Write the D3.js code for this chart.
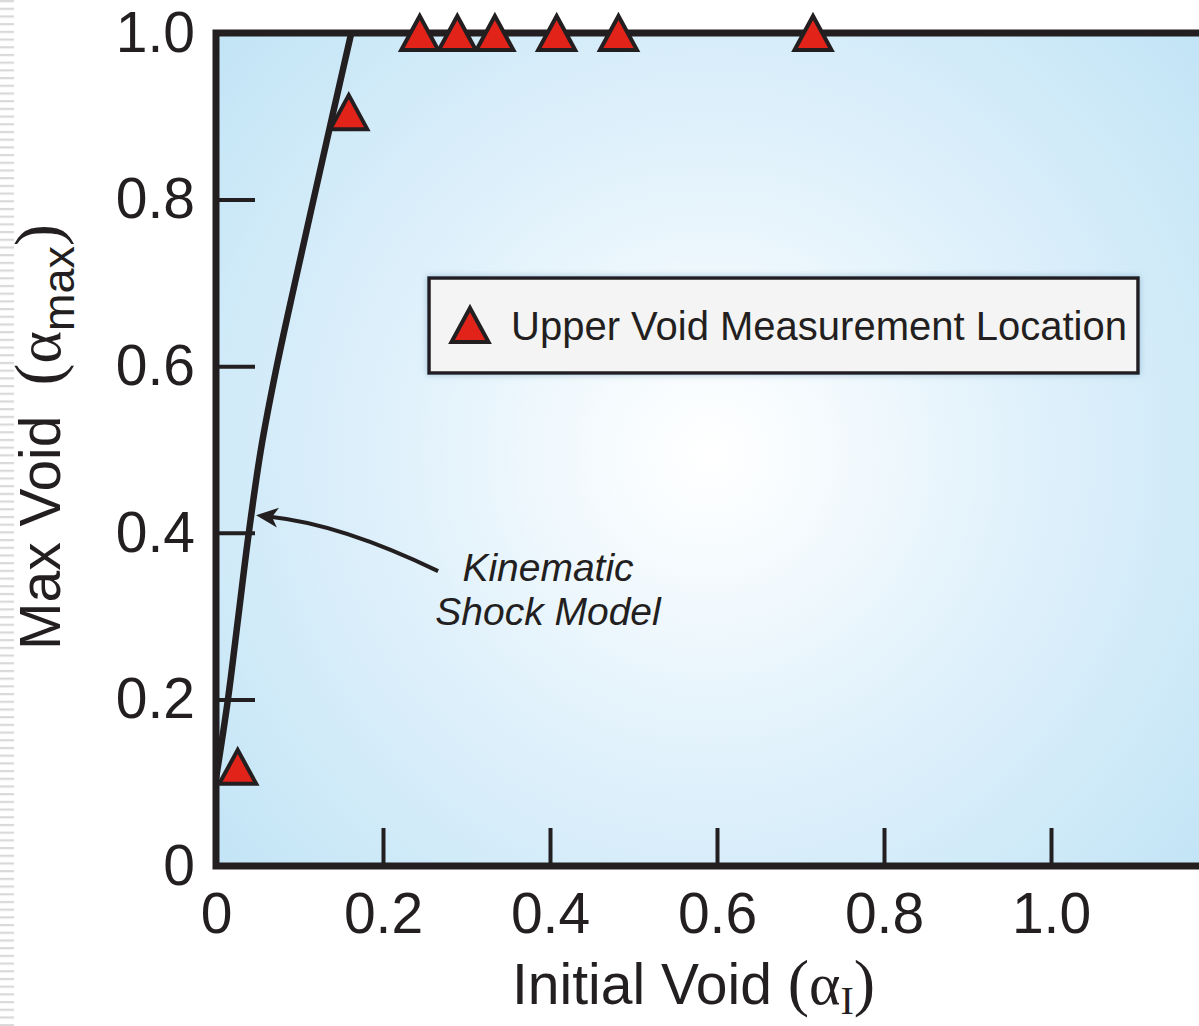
<!DOCTYPE html>
<html>
<head>
<meta charset="utf-8">
<script src="https://cdn.jsdelivr.net/npm/d3@7/dist/d3.min.js"></script>
<style>
  html, body { margin: 0; padding: 0; background: #ffffff; }
  svg { display: block; }
</style>
</head>
<body>
<div id="chart"></div>
<script>
// ---------------- DATA ----------------
const measX = [0.026, 0.159, 0.244, 0.289, 0.334, 0.408, 0.482, 0.715];
const measY = [0.119, 0.905, 1.0, 1.0, 1.0, 1.0, 1.0, 1.0];

const modelX = [0.000, 0.0143, 0.0268, 0.0393, 0.0538, 0.0728, 0.0945, 0.1168, 0.1393, 0.1620];
const modelY = [0.105, 0.200, 0.300, 0.400, 0.500, 0.600, 0.700, 0.800, 0.900, 1.000];

const xTicks = [0, 0.2, 0.4, 0.6, 0.8, 1.0];
const xTickLabels = ["0", "0.2", "0.4", "0.6", "0.8", "1.0"];
const yTicks = [0, 0.2, 0.4, 0.6, 0.8, 1.0];
const yTickLabels = ["0", "0.2", "0.4", "0.6", "0.8", "1.0"];

const legendLabel = "Upper Void Measurement Location";
const annotationLines = ["Kinematic", "Shock Model"];
// annotation arrow in data coordinates: start (near text) -> control -> tip (on model curve)
const arrowStart = [0.266, 0.354];
const arrowCtrl = [0.15, 0.41];
const arrowTip = [0.048, 0.421];

// ---------------- LAYOUT ----------------
const W = 1199, H = 1026;
const FONT = "'Liberation Sans', Arial, Helvetica, sans-serif";
const SERIF = "'Liberation Serif', 'Times New Roman', serif";
const INK = "#231f20";
const RED = "#e2231a";

const x = d3.scaleLinear().domain([0, 1.2]).range([216, 216 + 1.2 * 835]);
const y = d3.scaleLinear().domain([0, 1]).range([866, 33]);

const svg = d3.select("#chart").append("svg")
  .attr("width", W).attr("height", H)
  .attr("viewBox", `0 0 ${W} ${H}`);

const defs = svg.append("defs");
const grad = defs.append("radialGradient")
  .attr("id", "bg").attr("gradientUnits", "userSpaceOnUse")
  .attr("cx", 710).attr("cy", 455).attr("r", 700);
grad.append("stop").attr("offset", "0").attr("stop-color", "#ffffff");
grad.append("stop").attr("offset", "0.12").attr("stop-color", "#f8fcfe");
grad.append("stop").attr("offset", "0.45").attr("stop-color", "#e0f1fb");
grad.append("stop").attr("offset", "1").attr("stop-color", "#bde2f5");

const stripe = defs.append("pattern")
  .attr("id", "stripes").attr("patternUnits", "userSpaceOnUse")
  .attr("width", 14).attr("height", 7.7);
stripe.append("rect").attr("x", 0).attr("y", 0).attr("width", 14).attr("height", 2.2).attr("fill", "#d9d9d9");

const shadow = defs.append("filter").attr("id", "shadow")
  .attr("x", "-5%").attr("y", "-30%").attr("width", "110%").attr("height", "160%");
shadow.append("feDropShadow").attr("dx", 0).attr("dy", 0).attr("stdDeviation", 3)
  .attr("flood-color", "#7fa9c4").attr("flood-opacity", 0.7);

const clip = defs.append("clipPath").attr("id", "plotclip");
clip.append("rect").attr("x", x(0)).attr("y", y(1)).attr("width", x(1.2) - x(0)).attr("height", y(0) - y(1));

// left-edge stripe artifact
svg.append("rect").attr("x", 0).attr("y", 0).attr("width", 14).attr("height", H).attr("fill", "url(#stripes)");

// plot background
svg.append("rect")
  .attr("x", x(0)).attr("y", y(1))
  .attr("width", x(1.2) - x(0)).attr("height", y(0) - y(1))
  .attr("fill", "url(#bg)");

// ---------------- AXES ----------------
const xAxis = d3.axisBottom(x)
  .tickValues(xTicks)
  .tickFormat((d, i) => xTickLabels[i])
  .tickSize(-38).tickPadding(27);
const gx = svg.append("g").attr("transform", `translate(0,${y(0)})`).call(xAxis);
gx.select(".domain").remove();
gx.selectAll(".tick line").attr("stroke", INK).attr("stroke-width", 4);
gx.selectAll(".tick text").attr("fill", INK).style("font-family", FONT).style("font-size", "57px");

const yAxis = d3.axisLeft(y)
  .tickValues(yTicks)
  .tickFormat((d, i) => yTickLabels[i])
  .tickSize(-39).tickPadding(21);
const gy = svg.append("g").attr("transform", `translate(${x(0)},0)`).call(yAxis);
gy.select(".domain").remove();
gy.selectAll(".tick line").attr("stroke", INK).attr("stroke-width", 4);
gy.selectAll(".tick text").attr("fill", INK).style("font-family", FONT).style("font-size", "57px");

// ---------------- MODEL CURVE ----------------
const modelData = modelX.map((d, i) => [d, modelY[i]]);
svg.append("path")
  .datum(modelData)
  .attr("clip-path", "url(#plotclip)")
  .attr("fill", "none").attr("stroke", INK).attr("stroke-width", 6.5)
  .attr("stroke-linecap", "butt")
  .attr("d", d3.line().x(d => x(d[0])).y(d => y(d[1])).curve(d3.curveCatmullRom.alpha(0.5)));

// ---------------- FRAME ----------------
svg.append("rect")
  .attr("x", x(0)).attr("y", y(1))
  .attr("width", x(1.2) - x(0) + 40).attr("height", y(0) - y(1))
  .attr("fill", "none").attr("stroke", INK).attr("stroke-width", 7);

// ---------------- ANNOTATION ----------------
const sx = x(arrowStart[0]), sy = y(arrowStart[1]);
const cx = x(arrowCtrl[0]), cy = y(arrowCtrl[1]);
const tx = x(arrowTip[0]), ty = y(arrowTip[1]);
let dxv = tx - cx, dyv = ty - cy;
const len = Math.hypot(dxv, dyv); dxv /= len; dyv /= len;
const headL = 22, headW = 10;
const bx = tx - dxv * headL, by = ty - dyv * headL;
const nx = -dyv, ny = dxv;
svg.append("path")
  .attr("fill", "none").attr("stroke", INK).attr("stroke-width", 4)
  .attr("d", `M${sx},${sy} Q${cx},${cy} ${bx + dxv * 6},${by + dyv * 6}`);
svg.append("path")
  .attr("fill", INK)
  .attr("d", `M${tx},${ty} L${bx + nx * headW},${by + ny * headW} L${bx + dxv * 6},${by + dyv * 6} L${bx - nx * headW},${by - ny * headW} Z`);

const ann = svg.append("text")
  .attr("text-anchor", "middle")
  .style("font-family", FONT).style("font-size", "39px").style("font-style", "italic")
  .attr("fill", INK);
ann.append("tspan").attr("x", 548).attr("y", 581).text(annotationLines[0]);
ann.append("tspan").attr("x", 548).attr("y", 625).text(annotationLines[1]);

// ---------------- MARKERS ----------------
const triW = 37, triH = 34;
function triPath(cx, cy, w, h) {
  return `M${cx},${cy - h / 2} L${cx + w / 2},${cy + h / 2} L${cx - w / 2},${cy + h / 2} Z`;
}
svg.append("g").selectAll("path")
  .data(measX.map((d, i) => [d, measY[i]]))
  .join("path")
  .attr("d", d => triPath(x(d[0]), y(d[1]), triW, triH))
  .attr("fill", RED).attr("stroke", INK).attr("stroke-width", 4).attr("stroke-linejoin", "miter");

// ---------------- LEGEND ----------------
const lg = svg.append("g");
lg.append("rect")
  .attr("x", 429).attr("y", 278).attr("width", 709).attr("height", 95)
  .attr("fill", "#f4f4f4").attr("stroke", INK).attr("stroke-width", 3.5)
  .attr("filter", "url(#shadow)");
lg.append("path")
  .attr("d", triPath(470, 325, triW, triH))
  .attr("fill", RED).attr("stroke", INK).attr("stroke-width", 4);
lg.append("text")
  .attr("x", 511).attr("y", 340)
  .style("font-family", FONT).style("font-size", "40px")
  .attr("fill", INK).text(legendLabel);

// ---------------- AXIS TITLES ----------------
const xt = svg.append("text")
  .attr("x", 512).attr("y", 1004)
  .style("font-family", FONT).style("font-size", "57px").attr("fill", INK);
xt.append("tspan").text("Initial Void ");
xt.append("tspan").style("font-family", SERIF).style("font-size", "64px").text("(");
xt.append("tspan").style("font-family", SERIF).style("font-size", "60px").text("α");
xt.append("tspan").style("font-family", SERIF).style("font-size", "40px").attr("dy", 10).text("I");
xt.append("tspan").style("font-family", SERIF).style("font-size", "64px").attr("dy", -10).text(")");

const yt = svg.append("text")
  .attr("transform", "translate(60,650) rotate(-90)")
  .attr("x", 0).attr("y", 0)
  .style("font-family", FONT).style("font-size", "57px").attr("fill", INK);
yt.append("tspan").text("Max Void");
yt.append("tspan").attr("dx", 30).style("font-family", SERIF).style("font-size", "66px").text("(");
yt.append("tspan").style("font-family", SERIF).style("font-size", "62px").text("α");
yt.append("tspan").style("font-size", "45px").attr("dy", 14).text("max");
yt.append("tspan").style("font-family", SERIF).style("font-size", "66px").attr("dy", -14).text(")");
</script>
</body>
</html>
